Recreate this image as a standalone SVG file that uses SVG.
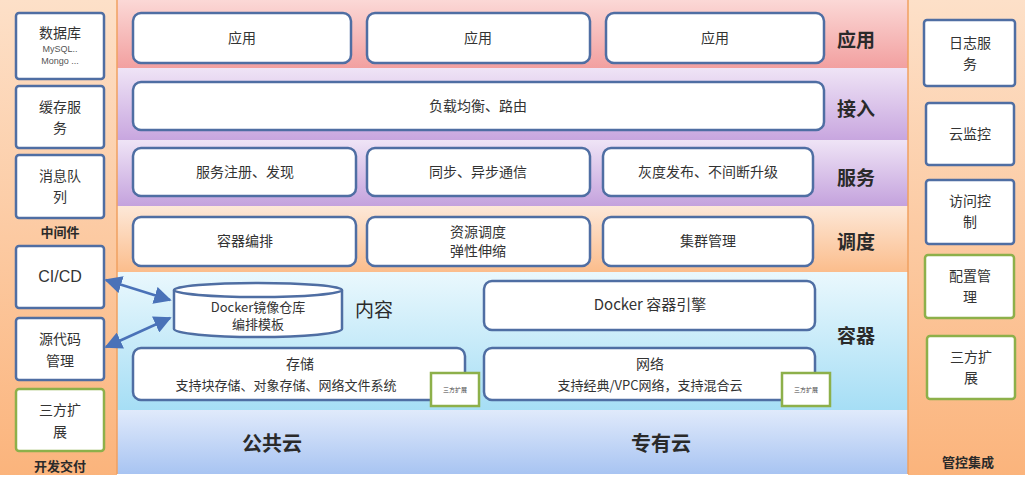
<svg xmlns="http://www.w3.org/2000/svg" width="1025" height="479" viewBox="0 0 1025 479">
<defs>
<linearGradient id="gSide" x1="0" y1="0" x2="0" y2="1"><stop offset="0" stop-color="#fde0c8"/><stop offset="1" stop-color="#fbb47c"/></linearGradient>
<linearGradient id="gApp" x1="0" y1="0" x2="0" y2="1"><stop offset="0" stop-color="#fbd8d6"/><stop offset="1" stop-color="#f2a0a0"/></linearGradient>
<linearGradient id="gAcc" x1="0" y1="0" x2="0" y2="1"><stop offset="0" stop-color="#efe4f6"/><stop offset="1" stop-color="#c8a6df"/></linearGradient>
<linearGradient id="gSvc" x1="0" y1="0" x2="0" y2="1"><stop offset="0" stop-color="#efe4f6"/><stop offset="1" stop-color="#c4a2dd"/></linearGradient>
<linearGradient id="gSch" x1="0" y1="0" x2="0" y2="1"><stop offset="0" stop-color="#fde8d8"/><stop offset="1" stop-color="#fbbd8c"/></linearGradient>
<linearGradient id="gCon" x1="0" y1="0" x2="0" y2="1"><stop offset="0" stop-color="#eaf8fd"/><stop offset="1" stop-color="#a6def5"/></linearGradient>
<linearGradient id="gCloud" x1="0" y1="0" x2="0" y2="1"><stop offset="0" stop-color="#e0eafb"/><stop offset="1" stop-color="#a8c4f2"/></linearGradient>
<marker id="ah" viewBox="0 0 10 10" refX="9" refY="5" markerWidth="7" markerHeight="7" orient="auto-start-reverse"><path d="M0,0 L10,5 L0,10 z" fill="#4a72b8"/></marker>
</defs>
<style>
.box{fill:#ffffff;stroke:#4f6ea3;stroke-width:2.5}
.gbox{fill:#ffffff;stroke:#8db04a;stroke-width:2.5}
.t{font-family:"Noto Sans CJK SC","Liberation Sans",sans-serif;fill:#333333;font-size:14px;text-anchor:middle}
.s{font-size:13px}
.xs{font-family:"Liberation Sans","Noto Sans CJK SC",sans-serif;fill:#555555;font-size:9px;text-anchor:middle}
.lt{font-family:"Noto Sans CJK SC",sans-serif;fill:#2a2a2a;font-size:19px;text-anchor:middle;font-weight:bold}
.ct{font-family:"Noto Sans CJK SC",sans-serif;fill:#2a2a2a;font-size:13px;text-anchor:middle;font-weight:bold}
.tiny{font-family:"Noto Sans CJK SC",sans-serif;fill:#444;font-size:6px;text-anchor:middle}
.conn{stroke:#4a72b8;stroke-width:2.5;fill:none}
</style>
<rect width="1025" height="479" fill="#ffffff"/>
<g id="bands">
<rect x="0" y="0" width="117" height="475" fill="url(#gSide)"/>
<rect x="908" y="0" width="117" height="475" fill="url(#gSide)"/>
<rect x="117" y="0" width="791" height="68" fill="url(#gApp)"/>
<rect x="117" y="68" width="791" height="72" fill="url(#gAcc)"/>
<rect x="117" y="140" width="791" height="66" fill="url(#gSvc)"/>
<rect x="117" y="206" width="791" height="66" fill="url(#gSch)"/>
<rect x="117" y="272" width="791" height="138" fill="url(#gCon)"/>
<rect x="117" y="410" width="791" height="64" fill="url(#gCloud)"/>
<line x1="117" y1="0" x2="117" y2="474" stroke="#f0a060" stroke-width="1.5"/>
<line x1="908" y1="0" x2="908" y2="474" stroke="#f0a060" stroke-width="1.5"/>
<text class="lt" x="856" y="47">应用</text>
<text class="lt" x="856" y="116">接入</text>
<text class="lt" x="856" y="185">服务</text>
<text class="lt" x="856" y="249">调度</text>
<text class="lt" x="856" y="343">容器</text>
<text class="lt" x="272" y="451" style="font-size:20px">公共云</text>
<text class="lt" x="661" y="451" style="font-size:20px">专有云</text>
<text class="lt" x="374" y="317" style="font-weight:normal">内容</text>
<text class="ct" x="60" y="237">中间件</text>
<text class="ct" x="60" y="471">开发交付</text>
<text class="ct" x="968" y="467">管控集成</text>
</g>
<g id="app1"><rect class="box" x="133" y="13" width="218" height="50" rx="8"/><text class="t" x="242" y="43">应用</text></g>
<g id="app2"><rect class="box" x="367" y="13" width="223" height="50" rx="8"/><text class="t" x="478" y="43">应用</text></g>
<g id="app3"><rect class="box" x="606" y="13" width="218" height="50" rx="8"/><text class="t" x="715" y="43">应用</text></g>
<g id="lb"><rect class="box" x="133" y="82" width="691" height="48" rx="8"/><text class="t" x="478" y="111">负载均衡、路由</text></g>
<g id="svc1"><rect class="box" x="133" y="148" width="223" height="48" rx="8"/><text class="t" x="245" y="177">服务注册、发现</text></g>
<g id="svc2"><rect class="box" x="367" y="148" width="223" height="48" rx="8"/><text class="t" x="478" y="177">同步、异步通信</text></g>
<g id="svc3"><rect class="box" x="603" y="148" width="210" height="48" rx="8"/><text class="t" x="708" y="177">灰度发布、不间断升级</text></g>
<g id="sch1"><rect class="box" x="133" y="217" width="223" height="49" rx="8"/><text class="t" x="245" y="246">容器编排</text></g>
<g id="sch2"><rect class="box" x="367" y="217" width="223" height="49" rx="8"/><text class="t" x="478" y="237">资源调度</text><text class="t" x="478" y="256">弹性伸缩</text></g>
<g id="sch3"><rect class="box" x="603" y="217" width="210" height="49" rx="8"/><text class="t" x="708" y="246">集群管理</text></g>
<g id="repo">
<path class="box" d="M174,290 L174,329 A84,8 0 0 0 342,329 L342,290"/>
<ellipse class="box" cx="258" cy="290" rx="84" ry="7"/>
<text class="t s" x="258" y="312">Docker镜像仓库</text>
<text class="t s" x="258" y="329">编排模板</text>
</g>
<g id="engine"><rect class="box" x="484" y="281" width="331" height="49" rx="8"/><text class="t" x="650" y="310" style="font-size:15px">Docker 容器引擎</text></g>
<g id="storage"><rect class="box" x="133" y="348" width="332" height="52" rx="8"/><text class="t" x="300" y="369">存储</text><text class="t s" x="286" y="390">支持块存储、对象存储、网络文件系统</text></g>
<g id="ext1"><rect class="gbox" x="431" y="373" width="48" height="33"/><text class="tiny" x="455" y="392">三方扩展</text></g>
<g id="network"><rect class="box" x="484" y="348" width="331" height="52" rx="8"/><text class="t" x="650" y="369">网络</text><text class="t s" x="650" y="390">支持经典/VPC网络，支持混合云</text></g>
<g id="ext2"><rect class="gbox" x="782" y="373" width="48" height="33"/><text class="tiny" x="806" y="392">三方扩展</text></g>
<g id="db"><rect class="box" x="16" y="13" width="88" height="66" rx="3"/><text class="t" x="60" y="38">数据库</text><text class="xs" x="60" y="52">MySQL..</text><text class="xs" x="60" y="64">Mongo ...</text></g>
<g id="cache"><rect class="box" x="16" y="86" width="88" height="62" rx="3"/><text class="t" x="60" y="112">缓存服</text><text class="t" x="60" y="133">务</text></g>
<g id="mq"><rect class="box" x="16" y="155" width="88" height="63" rx="3"/><text class="t" x="60" y="181">消息队</text><text class="t" x="60" y="202">列</text></g>
<g id="cicd"><rect class="box" x="16" y="246" width="88" height="62" rx="3"/><text class="t" x="60" y="282" style="font-family:'Liberation Sans',sans-serif;font-size:16px">CI/CD</text></g>
<g id="scm"><rect class="box" x="16" y="318" width="88" height="62" rx="3"/><text class="t" x="60" y="344">源代码</text><text class="t" x="60" y="366">管理</text></g>
<g id="ext3"><rect class="gbox" x="16" y="389" width="88" height="62" rx="3"/><text class="t" x="60" y="415">三方扩</text><text class="t" x="60" y="437">展</text></g>
<g id="log"><rect class="box" x="924" y="20" width="91" height="66" rx="3"/><text class="t" x="970" y="48">日志服</text><text class="t" x="970" y="69">务</text></g>
<g id="mon"><rect class="box" x="926" y="103" width="88" height="62" rx="3"/><text class="t" x="970" y="139">云监控</text></g>
<g id="acl"><rect class="box" x="926" y="180" width="88" height="64" rx="3"/><text class="t" x="970" y="206">访问控</text><text class="t" x="970" y="227">制</text></g>
<g id="cfg"><rect class="gbox" x="925" y="255" width="89" height="63" rx="3"/><text class="t" x="970" y="281">配置管</text><text class="t" x="970" y="302">理</text></g>
<g id="ext4"><rect class="gbox" x="927" y="336" width="88" height="63" rx="3"/><text class="t" x="971" y="362">三方扩</text><text class="t" x="971" y="383">展</text></g>
<g id="connectors">
<line class="conn" x1="106" y1="280" x2="170" y2="300" marker-start="url(#ah)" marker-end="url(#ah)"/>
<line class="conn" x1="106" y1="347" x2="170" y2="318" marker-start="url(#ah)" marker-end="url(#ah)"/>
</g>
</svg>
